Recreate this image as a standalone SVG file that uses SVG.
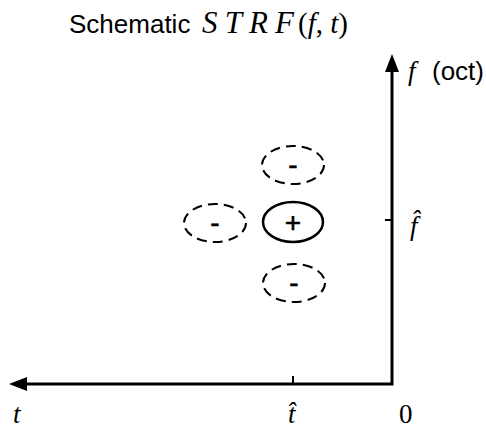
<svg xmlns="http://www.w3.org/2000/svg" width="486" height="425" viewBox="0 0 486 425">
<style>
.ax{stroke:#000;stroke-width:3;fill:none}
.tk{stroke:#000;stroke-width:2}
.neg{fill:none;stroke:#000;stroke-width:2;stroke-dasharray:10,6}
.pos{fill:none;stroke:#000;stroke-width:2.5}
.sans{font-family:"Liberation Sans",Arial,sans-serif;fill:#000}
.math{font-family:"Liberation Serif","DejaVu Serif",serif;font-style:italic;fill:#000}
.rom{font-family:"Liberation Serif","DejaVu Serif",serif;fill:#000}
.sign{font-family:"Liberation Sans",Arial,sans-serif;font-size:28px;text-anchor:middle;fill:#000;stroke:#000;stroke-width:0.6}
</style>
<rect width="486" height="425" fill="#fff"/>
<g id="title">
<text class="sans" x="69" y="33" font-size="26">Schematic</text>
<text class="math" x="202" y="33" font-size="31" textLength="92" lengthAdjust="spacing">STRF</text>
<text class="rom" x="298" y="33" font-size="29">(<tspan class="math">f</tspan>, <tspan class="math">t</tspan>)</text>
</g>
<g id="connectors">
<polyline class="ax" points="392,70 392,384 24,384"/>
<polygon points="392,54 385,72 399,72" fill="#000"/>
<polygon points="9,384 27,377 27,391" fill="#000"/>
<line class="tk" x1="293" y1="376" x2="293" y2="384"/>
<line class="tk" x1="385" y1="220" x2="392" y2="220"/>
</g>
<g id="axis-labels">
<text class="math" x="408" y="80" font-size="27">f</text>
<text class="sans" x="432" y="80" font-size="26">(oct)</text>
<text class="math" x="410" y="235" font-size="27">f̂</text>
<text class="math" x="13" y="423" font-size="27">t</text>
<text class="math" x="288" y="423" font-size="27">t̂</text>
<text class="rom" x="399" y="423" font-size="27">0</text>
</g>
<g id="center-pos">
<ellipse class="pos" cx="293" cy="222" rx="30" ry="20"/>
<text class="sign" x="293" y="232">+</text>
</g>
<g id="top-neg">
<ellipse class="neg" cx="293" cy="165" rx="31" ry="19"/>
<text class="sign" x="293" y="174">-</text>
</g>
<g id="bottom-neg">
<ellipse class="neg" cx="294" cy="283" rx="31" ry="19"/>
<text class="sign" x="294" y="292">-</text>
</g>
<g id="left-neg">
<ellipse class="neg" cx="215" cy="223" rx="31" ry="19"/>
<text class="sign" x="215" y="232">-</text>
</g>
</svg>
